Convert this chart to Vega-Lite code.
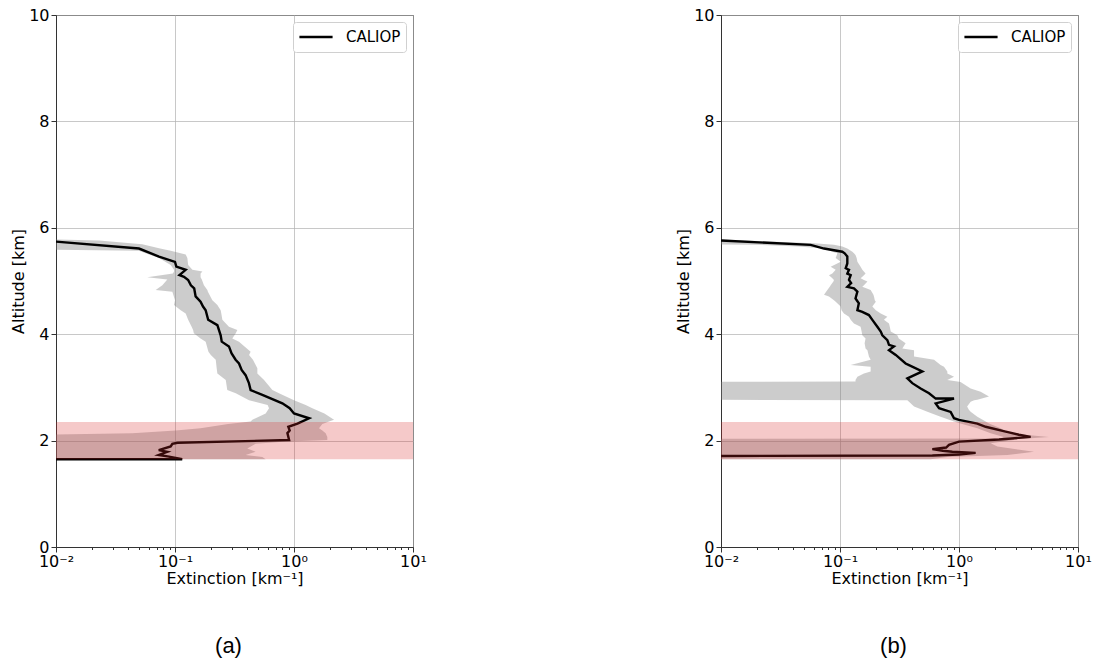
{
  "$schema": "https://vega.github.io/schema/vega-lite/v6.json",
  "padding": {"left": 10, "top": 6, "right": 5, "bottom": 5},
  "background": "white",
  "config": {
    "font": "DejaVu Sans",
    "view": {"stroke": "#333", "strokeWidth": 1},
    "axis": {"labelFont": "DejaVu Sans", "labelFontSize": 16, "labelColor": "#000", "titleFont": "DejaVu Sans", "titleFontSize": 16, "titleFontWeight": "normal", "titleColor": "#000", "domainColor": "#333", "tickColor": "#333", "tickSize": 5, "gridColor": "#b0b0b0", "gridOpacity": 0.7, "gridWidth": 1, "labelFlush": false},
    "legend": {"labelFont": "DejaVu Sans", "labelFontSize": 15, "labelColor": "#000"},
    "title": {"font": "Liberation Sans", "fontSize": 22, "fontWeight": "normal", "color": "#000"}
  },
  "datasets": {
    "lineA": [
      {"alt":5.74,"ext":0.01},{"alt":5.61,"ext":0.0498},{"alt":5.46,"ext":0.0733},{"alt":5.36,"ext":0.100},{"alt":5.27,"ext":0.1026},{"alt":5.21,"ext":0.123},{"alt":5.11,"ext":0.109},{"alt":5.08,"ext":0.119},{"alt":5.02,"ext":0.129},{"alt":4.92,"ext":0.136},{"alt":4.86,"ext":0.145},{"alt":4.71,"ext":0.149},{"alt":4.61,"ext":0.164},{"alt":4.52,"ext":0.172},{"alt":4.45,"ext":0.181},{"alt":4.27,"ext":0.19},{"alt":4.17,"ext":0.227},{"alt":3.98,"ext":0.242},{"alt":3.86,"ext":0.247},{"alt":3.77,"ext":0.284},{"alt":3.64,"ext":0.299},{"alt":3.52,"ext":0.323},{"alt":3.45,"ext":0.345},{"alt":3.33,"ext":0.363},{"alt":3.23,"ext":0.392},{"alt":3.08,"ext":0.418},{"alt":2.95,"ext":0.432},{"alt":2.86,"ext":0.542},{"alt":2.70,"ext":0.798},{"alt":2.61,"ext":0.92},{"alt":2.51,"ext":1.0},{"alt":2.42,"ext":1.34},{"alt":2.32,"ext":1.07},{"alt":2.26,"ext":0.896},{"alt":2.19,"ext":0.92},{"alt":2.14,"ext":0.88},{"alt":2.01,"ext":0.91},{"alt":1.96,"ext":0.105},{"alt":1.94,"ext":0.095},{"alt":1.89,"ext":0.092},{"alt":1.82,"ext":0.073},{"alt":1.79,"ext":0.086},{"alt":1.73,"ext":0.073},{"alt":1.70,"ext":0.089},{"alt":1.65,"ext":0.115},{"alt":1.65,"ext":0.01}
    ],
    "bandA": [
      {"alt":5.78,"lo":0.001,"hi":0.0101},{"alt":5.76,"lo":0.001,"hi":0.023},{"alt":5.69,"lo":0.001,"hi":0.053},{"alt":5.61,"lo":0.001,"hi":0.075},{"alt":5.57,"lo":0.0498,"hi":0.092},{"alt":5.50,"lo":0.0605,"hi":0.123},{"alt":5.43,"lo":0.0734,"hi":0.127},{"alt":5.30,"lo":0.092,"hi":0.129},{"alt":5.21,"lo":0.0981,"hi":0.140},{"alt":5.18,"lo":0.0981,"hi":0.170},{"alt":5.14,"lo":0.0961,"hi":0.164},{"alt":5.07,"lo":0.0585,"hi":0.164},{"alt":5.03,"lo":0.0862,"hi":0.168},{"alt":4.92,"lo":0.0783,"hi":0.175},{"alt":4.83,"lo":0.0688,"hi":0.187},{"alt":4.80,"lo":0.095,"hi":0.189},{"alt":4.64,"lo":0.100,"hi":0.206},{"alt":4.55,"lo":0.0981,"hi":0.227},{"alt":4.45,"lo":0.1117,"hi":0.242},{"alt":4.39,"lo":0.123,"hi":0.245},{"alt":4.27,"lo":0.129,"hi":0.250},{"alt":4.14,"lo":0.138,"hi":0.284},{"alt":4.08,"lo":0.142,"hi":0.334},{"alt":4.02,"lo":0.144,"hi":0.324},{"alt":3.92,"lo":0.164,"hi":0.303},{"alt":3.86,"lo":0.181,"hi":0.345},{"alt":3.67,"lo":0.191,"hi":0.432},{"alt":3.61,"lo":0.200,"hi":0.419},{"alt":3.52,"lo":0.220,"hi":0.452},{"alt":3.36,"lo":0.224,"hi":0.492},{"alt":3.26,"lo":0.227,"hi":0.492},{"alt":3.14,"lo":0.267,"hi":0.560},{"alt":2.95,"lo":0.275,"hi":0.658},{"alt":2.89,"lo":0.324,"hi":0.748},{"alt":2.76,"lo":0.419,"hi":1.0},{"alt":2.67,"lo":0.60,"hi":1.253},{"alt":2.61,"lo":0.617,"hi":1.426},{"alt":2.51,"lo":0.578,"hi":1.80},{"alt":2.39,"lo":0.447,"hi":2.17},{"alt":2.36,"lo":0.432,"hi":1.97},{"alt":2.31,"lo":0.28,"hi":1.73},{"alt":2.23,"lo":0.164,"hi":1.622},{"alt":2.19,"lo":0.1014,"hi":1.73},{"alt":2.14,"lo":0.0438,"hi":1.845},{"alt":2.07,"lo":0.001,"hi":1.905},{"alt":2.01,"lo":0.001,"hi":1.905},{"alt":1.98,"lo":0.001,"hi":0.80},{"alt":1.94,"lo":0.001,"hi":0.476},{"alt":1.85,"lo":0.001,"hi":0.405},{"alt":1.79,"lo":0.001,"hi":0.476},{"alt":1.73,"lo":0.001,"hi":0.392},{"alt":1.69,"lo":0.001,"hi":0.542},{"alt":1.65,"lo":0.001,"hi":0.578}
    ],
    "lineB": [
      {"alt":5.76,"ext":0.01},{"alt":5.68,"ext":0.0567},{"alt":5.61,"ext":0.0734},{"alt":5.55,"ext":0.1046},{"alt":5.52,"ext":0.1095},{"alt":5.46,"ext":0.1152},{"alt":5.33,"ext":0.1152},{"alt":5.24,"ext":0.1117},{"alt":5.21,"ext":0.119},{"alt":5.14,"ext":0.1152},{"alt":5.11,"ext":0.123},{"alt":5.02,"ext":0.119},{"alt":4.96,"ext":0.124},{"alt":4.89,"ext":0.1152},{"alt":4.86,"ext":0.131},{"alt":4.80,"ext":0.140},{"alt":4.67,"ext":0.135},{"alt":4.58,"ext":0.144},{"alt":4.45,"ext":0.140},{"alt":4.42,"ext":0.154},{"alt":4.36,"ext":0.175},{"alt":4.27,"ext":0.187},{"alt":4.14,"ext":0.206},{"alt":4.05,"ext":0.22},{"alt":3.98,"ext":0.227},{"alt":3.89,"ext":0.250},{"alt":3.80,"ext":0.258},{"alt":3.77,"ext":0.284},{"alt":3.70,"ext":0.258},{"alt":3.61,"ext":0.294},{"alt":3.45,"ext":0.356},{"alt":3.42,"ext":0.380},{"alt":3.30,"ext":0.492},{"alt":3.17,"ext":0.368},{"alt":3.08,"ext":0.405},{"alt":2.98,"ext":0.476},{"alt":2.89,"ext":0.56},{"alt":2.79,"ext":0.637},{"alt":2.79,"ext":0.908},{"alt":2.70,"ext":0.637},{"alt":2.61,"ext":0.68},{"alt":2.54,"ext":0.851},{"alt":2.42,"ext":0.908},{"alt":2.39,"ext":1.0},{"alt":2.32,"ext":1.426},{"alt":2.26,"ext":1.675},{"alt":2.17,"ext":2.47},{"alt":2.11,"ext":3.19},{"alt":2.07,"ext":4.0},{"alt":2.02,"ext":2.17},{"alt":1.98,"ext":1.0},{"alt":1.92,"ext":0.824},{"alt":1.87,"ext":0.78},{"alt":1.84,"ext":0.597},{"alt":1.81,"ext":0.73},{"alt":1.79,"ext":0.879},{"alt":1.77,"ext":1.38},{"alt":1.74,"ext":1.0},{"alt":1.72,"ext":0.597},{"alt":1.71,"ext":0.01}
    ],
    "bandB": [
      {"alt":5.78,"lo":0.001,"hi":0.0101},{"alt":5.71,"lo":0.001,"hi":0.0605},{"alt":5.68,"lo":0.02,"hi":0.089},{"alt":5.65,"lo":0.045,"hi":0.1046},{"alt":5.61,"lo":0.0734,"hi":0.115},{"alt":5.55,"lo":0.0862,"hi":0.127},{"alt":5.52,"lo":0.095,"hi":0.131},{"alt":5.49,"lo":0.094,"hi":0.135},{"alt":5.43,"lo":0.092,"hi":0.138},{"alt":5.36,"lo":0.1014,"hi":0.140},{"alt":5.27,"lo":0.0835,"hi":0.149},{"alt":5.21,"lo":0.092,"hi":0.154},{"alt":5.14,"lo":0.0862,"hi":0.164},{"alt":5.11,"lo":0.0808,"hi":0.159},{"alt":5.05,"lo":0.0862,"hi":0.149},{"alt":5.02,"lo":0.089,"hi":0.159},{"alt":4.99,"lo":0.088,"hi":0.170},{"alt":4.92,"lo":0.0835,"hi":0.159},{"alt":4.89,"lo":0.082,"hi":0.154},{"alt":4.83,"lo":0.0783,"hi":0.181},{"alt":4.74,"lo":0.0734,"hi":0.191},{"alt":4.71,"lo":0.0808,"hi":0.193},{"alt":4.64,"lo":0.089,"hi":0.196},{"alt":4.61,"lo":0.092,"hi":0.200},{"alt":4.52,"lo":0.1014,"hi":0.187},{"alt":4.45,"lo":0.103,"hi":0.200},{"alt":4.39,"lo":0.108,"hi":0.220},{"alt":4.33,"lo":0.119,"hi":0.250},{"alt":4.27,"lo":0.123,"hi":0.234},{"alt":4.20,"lo":0.131,"hi":0.258},{"alt":4.14,"lo":0.149,"hi":0.262},{"alt":4.05,"lo":0.152,"hi":0.267},{"alt":3.98,"lo":0.154,"hi":0.303},{"alt":3.92,"lo":0.164,"hi":0.312},{"alt":3.83,"lo":0.161,"hi":0.356},{"alt":3.73,"lo":0.164,"hi":0.334},{"alt":3.70,"lo":0.170,"hi":0.419},{"alt":3.58,"lo":0.175,"hi":0.419},{"alt":3.52,"lo":0.181,"hi":0.617},{"alt":3.42,"lo":0.123,"hi":0.70},{"alt":3.39,"lo":0.181,"hi":0.748},{"alt":3.30,"lo":0.181,"hi":0.798},{"alt":3.26,"lo":0.159,"hi":0.798},{"alt":3.20,"lo":0.140,"hi":0.908},{"alt":3.14,"lo":0.135,"hi":0.798},{"alt":3.11,"lo":0.135,"hi":0.97},{"alt":3.10,"lo":0.001,"hi":1.03},{"alt":3.08,"lo":0.001,"hi":1.07},{"alt":2.98,"lo":0.001,"hi":1.253},{"alt":2.92,"lo":0.001,"hi":1.52},{"alt":2.83,"lo":0.001,"hi":1.786},{"alt":2.77,"lo":0.001,"hi":1.426},{"alt":2.76,"lo":0.368,"hi":1.34},{"alt":2.73,"lo":0.38,"hi":1.253},{"alt":2.64,"lo":0.419,"hi":1.17},{"alt":2.58,"lo":0.492,"hi":1.21},{"alt":2.54,"lo":0.542,"hi":1.253},{"alt":2.45,"lo":0.70,"hi":1.426},{"alt":2.36,"lo":0.908,"hi":1.675},{"alt":2.32,"lo":1.03,"hi":1.786},{"alt":2.23,"lo":1.426,"hi":2.24},{"alt":2.14,"lo":1.845,"hi":2.55},{"alt":2.07,"lo":2.37,"hi":5.7},{"alt":2.04,"lo":2.24,"hi":3.7},{"alt":2.03,"lo":0.001,"hi":2.9},{"alt":2.01,"lo":0.001,"hi":2.9},{"alt":1.95,"lo":0.001,"hi":1.845},{"alt":1.89,"lo":0.001,"hi":2.1},{"alt":1.79,"lo":0.001,"hi":4.27},{"alt":1.73,"lo":0.001,"hi":2.55},{"alt":1.69,"lo":0.001,"hi":0.798},{"alt":1.65,"lo":0.001,"hi":0.578}
    ],
    "layerBand": [{"bottom":1.65,"top":2.35}],
    "minor": [{"v":0.02},{"v":0.03},{"v":0.04},{"v":0.05},{"v":0.06},{"v":0.07},{"v":0.08},{"v":0.09},{"v":0.2},{"v":0.3},{"v":0.4},{"v":0.5},{"v":0.6},{"v":0.7},{"v":0.8},{"v":0.9},{"v":2},{"v":3},{"v":4},{"v":5},{"v":6},{"v":7},{"v":8},{"v":9}]
  },
  "resolve": {"scale": {"color": "independent"}, "legend": {"color": "independent"}},
  "spacing": 248,
  "hconcat": [
    {
      "width": 357, "height": 532,
      "title": {"text": "(a)", "orient": "bottom", "frame": "group", "anchor": "middle", "offset": 50, "dx": -6},
      "resolve": {"axis": {"x": "independent"}},
      "layer": [
        {
          "data": {"name": "minor"},
          "mark": {"type": "tick", "opacity": 0},
          "encoding": {
            "x": {"field": "v", "type": "quantitative", "scale": {"type": "log", "domain": [0.01, 10]},
                  "axis": {"orient": "bottom", "values": [0.02,0.03,0.04,0.05,0.06,0.07,0.08,0.09,0.2,0.3,0.4,0.5,0.6,0.7,0.8,0.9,2,3,4,5,6,7,8,9], "labels": false, "tickSize": 2.5, "domain": false, "grid": false, "title": null}}
          }
        },
        {
          "data": {"name": "bandA"},
          "mark": {"type": "area", "orient": "horizontal", "color": "#808080", "opacity": 0.4, "clip": true},
          "encoding": {
            "y": {"field": "alt", "type": "quantitative", "scale": {"domain": [0, 10]},
                  "axis": {"values": [0,2,4,6,8,10], "title": "Altitude [km]", "grid": true, "titlePadding": 2}},
            "x": {"field": "lo", "type": "quantitative", "scale": {"type": "log", "domain": [0.01, 10]},
                  "axis": {"orient": "bottom", "values": [0.01,0.1,1,10], "grid": true, "title": "Extinction [km⁻¹]", "labelExpr": "datum.value < 0.05 ? '10⁻²' : datum.value < 0.5 ? '10⁻¹' : datum.value < 5 ? '10⁰' : '10¹'", "labelPadding": 1, "titlePadding": 1}},
            "x2": {"field": "hi"}
          }
        },
        {
          "data": {"name": "lineA"},
          "mark": {"type": "line", "strokeWidth": 2.4, "clip": true},
          "encoding": {
            "y": {"field": "alt", "type": "quantitative"},
            "x": {"field": "ext", "type": "quantitative", "axis": null},
            "order": {"value": null},
            "color": {"datum": "CALIOP", "type": "nominal", "scale": {"range": ["#000000"]},
                      "legend": {"title": null, "orient": "top-right", "symbolType": "stroke", "symbolStrokeWidth": 2.4, "symbolSize": 1100, "clipHeight": 20, "strokeColor": "#d0d0d0", "fillColor": "#ffffff", "padding": 5, "cornerRadius": 3, "offset": 7, "labelOffset": 12}}
          }
        },
        {
          "data": {"name": "layerBand"},
          "mark": {"type": "rect", "color": "#d62728", "opacity": 0.25},
          "encoding": {
            "y": {"field": "bottom", "type": "quantitative"},
            "y2": {"field": "top"}
          }
        }
      ]
    },
    {
      "width": 357, "height": 532,
      "title": {"text": "(b)", "orient": "bottom", "frame": "group", "anchor": "middle", "offset": 50, "dx": -6},
      "resolve": {"axis": {"x": "independent"}},
      "layer": [
        {
          "data": {"name": "minor"},
          "mark": {"type": "tick", "opacity": 0},
          "encoding": {
            "x": {"field": "v", "type": "quantitative", "scale": {"type": "log", "domain": [0.01, 10]},
                  "axis": {"orient": "bottom", "values": [0.02,0.03,0.04,0.05,0.06,0.07,0.08,0.09,0.2,0.3,0.4,0.5,0.6,0.7,0.8,0.9,2,3,4,5,6,7,8,9], "labels": false, "tickSize": 2.5, "domain": false, "grid": false, "title": null}}
          }
        },
        {
          "data": {"name": "bandB"},
          "mark": {"type": "area", "orient": "horizontal", "color": "#808080", "opacity": 0.4, "clip": true},
          "encoding": {
            "y": {"field": "alt", "type": "quantitative", "scale": {"domain": [0, 10]},
                  "axis": {"values": [0,2,4,6,8,10], "title": "Altitude [km]", "grid": true, "titlePadding": 2}},
            "x": {"field": "lo", "type": "quantitative", "scale": {"type": "log", "domain": [0.01, 10]},
                  "axis": {"orient": "bottom", "values": [0.01,0.1,1,10], "grid": true, "title": "Extinction [km⁻¹]", "labelExpr": "datum.value < 0.05 ? '10⁻²' : datum.value < 0.5 ? '10⁻¹' : datum.value < 5 ? '10⁰' : '10¹'", "labelPadding": 1, "titlePadding": 1}},
            "x2": {"field": "hi"}
          }
        },
        {
          "data": {"name": "lineB"},
          "mark": {"type": "line", "strokeWidth": 2.4, "clip": true},
          "encoding": {
            "y": {"field": "alt", "type": "quantitative"},
            "x": {"field": "ext", "type": "quantitative", "axis": null},
            "order": {"value": null},
            "color": {"datum": "CALIOP", "type": "nominal", "scale": {"range": ["#000000"]},
                      "legend": {"title": null, "orient": "top-right", "symbolType": "stroke", "symbolStrokeWidth": 2.4, "symbolSize": 1100, "clipHeight": 20, "strokeColor": "#d0d0d0", "fillColor": "#ffffff", "padding": 5, "cornerRadius": 3, "offset": 7, "labelOffset": 12}}
          }
        },
        {
          "data": {"name": "layerBand"},
          "mark": {"type": "rect", "color": "#d62728", "opacity": 0.25},
          "encoding": {
            "y": {"field": "bottom", "type": "quantitative"},
            "y2": {"field": "top"}
          }
        }
      ]
    }
  ]
}
